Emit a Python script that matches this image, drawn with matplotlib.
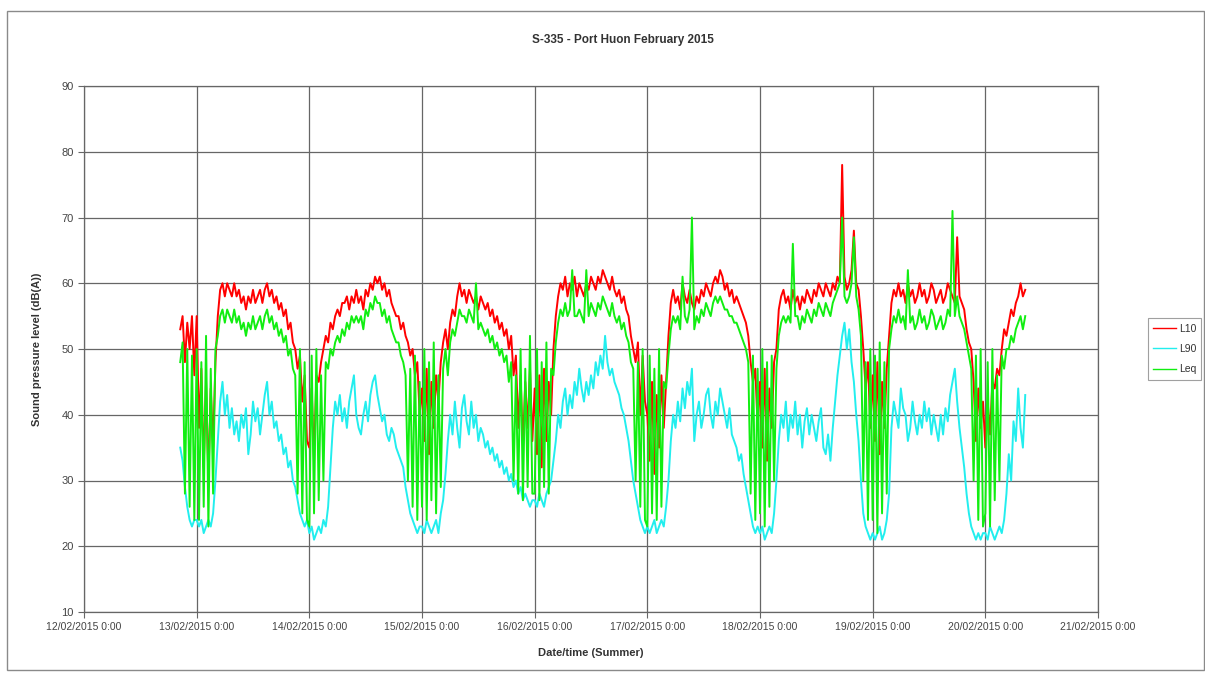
import pandas as pd
import matplotlib
matplotlib.use("Agg")
import matplotlib.pyplot as plt
import matplotlib.dates as mdates
from matplotlib.patches import Rectangle

plt.rcParams['font.family'] = ['Liberation Sans', 'DejaVu Sans']

# half-hourly readings, 12/02/2015 20:30 -> 20/02/2015 08:30
start_time = "2015-02-12 20:30"

l10 = [
    53, 55, 48, 54, 50, 55, 46,
    # 13/02
    55, 38, 47, 32, 45, 30, 44, 35, 48, 55, 59, 60,
    58, 60, 59, 58, 60, 58, 59, 57, 58, 56, 58, 57,
    59, 57, 58, 59, 57, 59, 60, 58, 59, 57, 58, 56,
    57, 55, 56, 53, 54, 51, 50, 47, 49, 42, 46, 36,
    # 14/02
    35, 44, 33, 46, 45, 48, 50, 52, 51, 54, 53, 55,
    56, 55, 57, 57, 58, 56, 58, 57, 59, 57, 58, 56,
    59, 58, 60, 59, 61, 60, 61, 59, 60, 58, 59, 57,
    56, 55, 55, 53, 54, 52, 51, 49, 50, 46, 48, 40,
    # 15/02
    44, 36, 47, 34, 45, 38, 46, 42, 48, 51, 53, 50,
    54, 56, 55, 58, 60, 58, 59, 57, 59, 58, 57, 58,
    56, 58, 57, 56, 57, 55, 56, 54, 55, 53, 54, 52,
    53, 50, 52, 46, 49, 38, 46, 35, 45, 38, 47, 36,
    # 16/02
    44, 34, 46, 32, 47, 36, 45, 40, 50, 55, 58, 60,
    59, 61, 58, 60, 59, 61, 58, 60, 59, 58, 60, 59,
    61, 60, 59, 61, 60, 62, 61, 60, 59, 61, 59, 58,
    59, 57, 58, 56, 55, 52, 50, 48, 51, 40, 49, 42,
    # 17/02
    40, 33, 45, 31, 43, 35, 46, 38, 45, 52, 57, 59,
    57, 58, 56, 60, 58, 57, 59, 57, 56, 58, 57, 59,
    58, 60, 59, 58, 60, 61, 60, 62, 61, 59, 60, 58,
    59, 57, 58, 57, 56, 55, 54, 52, 48, 45, 47, 38,
    # 18/02
    45, 35, 47, 33, 44, 38, 48, 50, 56, 58, 59, 57,
    58, 56, 59, 57, 58, 56, 58, 57, 59, 58, 57, 59,
    58, 60, 59, 58, 60, 59, 58, 60, 59, 61, 60, 78,
    61, 59, 60, 62, 68, 60, 59, 55, 50, 44, 48, 38,
    # 19/02
    46, 36, 48, 34, 45, 38, 47, 52, 57, 59, 58, 60,
    58, 59, 57, 60, 58, 59, 57, 58, 60, 58, 59, 57,
    58, 60, 59, 57, 58, 59, 57, 58, 60, 59, 58, 57,
    67, 58, 57, 56, 53, 51, 50, 45, 36, 44, 38, 42,
    # 20/02
    35, 42, 37, 45, 44, 47, 46, 50, 53, 52, 54, 56,
    55, 57, 58, 60, 58, 59,
]

l90 = [
    35, 33, 29, 26, 24, 23, 24,
    # 13/02
    24, 23, 24, 22, 23, 24, 23, 25, 30, 36, 42, 45,
    40, 43, 38, 41, 37, 39, 36, 40, 38, 41, 34, 37,
    42, 39, 41, 37, 40, 43, 45, 40, 42, 38, 39, 36,
    37, 34, 35, 32, 33, 30, 29, 27, 25, 24, 23, 24,
    # 14/02
    22, 23, 21, 22, 23, 22, 24, 23, 26, 32, 38, 42,
    40, 43, 39, 41, 38, 42, 44, 46, 40, 38, 37, 40,
    42, 39, 43, 45, 46, 43, 41, 39, 40, 37, 36, 38,
    37, 35, 34, 33, 32, 29, 27, 25, 24, 23, 22, 23,
    # 15/02
    23, 22, 24, 23, 22, 23, 24, 22, 25, 27, 31, 36,
    40, 37, 42, 38, 35, 41, 43, 39, 37, 42, 38, 40,
    36, 38, 37, 35, 36, 34, 35, 33, 34, 32, 33, 31,
    32, 30, 31, 29, 30, 28, 29, 27, 28, 27, 26, 27,
    # 16/02
    27, 26, 28, 27, 26, 28, 29, 30, 33, 36, 40, 38,
    42, 44, 40, 43, 41, 45, 43, 47, 44, 42, 45, 43,
    46, 44, 48, 46, 49, 47, 52, 48, 46, 47, 45, 44,
    43, 41, 40, 38, 36, 33, 30, 28, 26, 24, 23, 22,
    # 17/02
    23, 22, 23, 24, 22, 23, 24, 23, 26, 30, 36, 40,
    38, 42, 39, 44, 41, 45, 43, 47, 36, 40, 42, 38,
    40, 43, 44, 40, 38, 42, 40, 44, 42, 40, 38, 41,
    37, 36, 35, 33, 34, 31, 29, 27, 25, 23, 22, 23,
    # 18/02
    22, 23, 21, 22, 23, 22, 25, 30, 36, 40, 38, 42,
    36, 40, 38, 42, 37, 40, 35, 39, 41, 37, 40, 38,
    36, 39, 41, 35, 34, 37, 33, 38, 42, 46, 49, 52,
    54, 50, 53, 48, 45, 40, 36, 30, 25, 23, 22, 21,
    # 19/02
    22, 21, 22, 23, 21, 22, 24, 28, 38, 42, 40, 38,
    44, 41, 40, 36, 38, 42, 39, 37, 40, 38, 42, 39,
    41, 37, 40, 38, 36, 40, 37, 41, 39, 43, 45, 47,
    42, 38, 35, 32, 28, 25, 23, 22, 21, 22, 21, 22,
    # 20/02
    22, 21, 23, 22, 21, 22, 23, 22, 24, 28, 34, 30,
    39, 36, 44, 38, 35, 43,
]

leq = [
    48, 51, 28, 50, 26, 49, 24,
    # 13/02
    50, 24, 48, 26, 52, 23, 47, 28, 50, 52, 55, 56,
    54, 56, 55, 54, 56, 54, 55, 53, 54, 52, 54, 53,
    55, 53, 54, 55, 53, 55, 56, 54, 55, 53, 54, 52,
    53, 51, 52, 49, 50, 47, 46, 28, 50, 25, 48, 24,
    # 14/02
    23, 49, 25, 50, 27, 46, 30, 48, 47, 50, 49, 51,
    52, 51, 53, 52, 54, 53, 55, 54, 55, 54, 55, 53,
    56, 55, 57, 56, 58, 57, 57, 55, 56, 54, 55, 53,
    52, 51, 51, 49, 48, 46, 30, 47, 26, 49, 24, 45,
    # 15/02
    26, 50, 24, 48, 27, 51, 25, 46, 29, 47, 50, 46,
    51, 53, 52, 54, 56, 55, 55, 54, 56, 55, 54, 60,
    53, 54, 53, 52, 53, 51, 52, 50, 51, 49, 50, 48,
    49, 45, 48, 30, 46, 28, 50, 27, 47, 29, 52, 28,
    # 16/02
    28, 50, 27, 48, 29, 51, 28, 47, 46, 51, 54, 56,
    55, 57, 55, 56, 62, 55, 55, 56, 55, 54, 62, 55,
    57, 56, 55, 57, 56, 58, 57, 56, 55, 57, 55, 54,
    55, 53, 54, 52, 51, 48, 47, 30, 48, 26, 50, 24,
    # 17/02
    23, 49, 25, 47, 24, 50, 26, 45, 44, 49, 53, 55,
    54, 55, 53, 61, 55, 54, 56, 70, 53, 55, 54, 56,
    55, 57, 56, 55, 57, 58, 57, 58, 57, 56, 56, 55,
    55, 54, 54, 53, 52, 51, 50, 48, 28, 49, 24, 47,
    # 18/02
    25, 50, 23, 48, 26, 49, 30, 47, 52, 54, 55, 54,
    55, 54, 66, 55, 55, 53, 55, 54, 56, 55, 54, 56,
    55, 57, 56, 55, 57, 56, 55, 57, 58, 59, 60, 70,
    58, 57, 58, 60, 67, 58, 56, 52, 30, 48, 24, 50,
    # 19/02
    24, 49, 22, 51, 25, 48, 28, 50, 53, 55, 54, 56,
    54, 55, 53, 62, 54, 55, 53, 54, 56, 54, 55, 53,
    54, 56, 55, 53, 54, 55, 53, 54, 56, 55, 71, 55,
    58, 55, 54, 53, 51, 49, 47, 30, 49, 24, 50, 23,
    # 20/02
    25, 48, 23, 50, 27, 46, 30, 49, 47, 50, 50, 52,
    51, 53, 54, 55, 53, 55,
]

series_names = ["L10", "L90", "Leq"]
series_colors = ["#ff0000", "#22eeee", "#11ee11"]

day_labels = ["12/02/2015 0:00", "13/02/2015 0:00", "14/02/2015 0:00",
              "15/02/2015 0:00", "16/02/2015 0:00", "17/02/2015 0:00",
              "18/02/2015 0:00", "19/02/2015 0:00", "20/02/2015 0:00",
              "21/02/2015 0:00"]

times = pd.date_range(start_time, periods=len(l10), freq="30min")
days = pd.date_range("2015-02-12", periods=len(day_labels), freq="D")

fig = plt.figure(figsize=(12.05, 6.75), dpi=100)
ax = fig.add_axes([84 / 1205, 1 - 612 / 675, (1098 - 84) / 1205, (612 - 86) / 675])

lines = []
for vals, name, col in zip([l10, l90, leq], series_names, series_colors):
    ln, = ax.plot(times, vals, color=col, lw=1.4, label=name)
    lines.append(ln)

ax.set_xlim(days[0], days[-1])
ax.set_ylim(10, 90)
ax.set_yticks(range(10, 91, 10))
ax.set_xticks(days)
ax.set_xticklabels(day_labels)
ax.grid(True, color="#666666", lw=0.9)
for s in ax.spines.values():
    s.set_color("#666666")
    s.set_linewidth(0.9)
ax.tick_params(axis="both", colors="#666666", length=4, width=0.8,
               labelsize=7.5, labelcolor="#444444")
ax.tick_params(axis="y", labelsize=8)

fig.text(0.517, 0.94, "S-335 - Port Huon February 2015", ha="center", va="center",
         fontsize=8.5, fontweight="bold", color="#333333")
ax.set_ylabel("Sound pressure level (dB(A))", fontsize=8, fontweight="bold",
              color="#333333", labelpad=14)
ax.set_xlabel("Date/time (Summer)", fontsize=8, fontweight="bold",
              color="#333333", labelpad=11)

leg = fig.legend(lines, series_names, loc="center left", bbox_to_anchor=(0.948, 0.483),
                 fontsize=7.5, frameon=True, fancybox=False, handlelength=2.2,
                 borderpad=0.5, labelspacing=1.0, handletextpad=0.3)
leg.get_frame().set_edgecolor("#888888")
leg.get_frame().set_linewidth(0.8)
for ln in leg.get_lines():
    ln.set_linewidth(1.0)
for t in leg.get_texts():
    t.set_color("#333333")

# chart area border
fig.patches.append(Rectangle((7 / 1205, 1 - 670 / 675), 1197 / 1205, 659 / 675,
                             transform=fig.transFigure, fill=False,
                             edgecolor="#8a8a8a", lw=1.0))

fig.savefig("out.png", dpi=100)
